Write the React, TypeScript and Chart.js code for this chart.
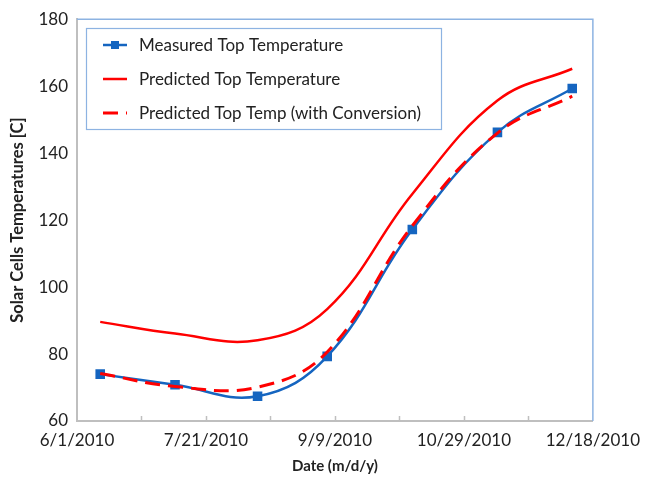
import React, { useEffect, useRef } from "react";
import { Chart, registerables } from "chart.js";

Chart.register(...registerables);

const measuredDates = ["6/10/2010", "7/9/2010", "8/10/2010", "9/6/2010", "10/9/2010", "11/11/2010", "12/10/2010"];
const measuredTop = [74, 70.8, 67.4, 79.3, 117.2, 146.2, 159.3];
const predictedTop = [89.6, 86.1, 84.1, 93.4, 127.8, 155.7, 165.2];
const predictedConv = [74.2, 70.3, 70.1, 80.6, 118.3, 146, 157];

const xTickLabels = ["6/1/2010", "7/21/2010", "9/9/2010", "10/29/2010", "12/18/2010"];
const yTicks = [60, 80, 100, 120, 140, 160, 180];

const seriesLabels = [
  "Measured Top Temperature",
  "Predicted Top Temperature",
  "Predicted Top Temp (with Conversion)",
];

const FONT = "Lato, 'Open Sans', sans-serif";
const TEXT = "#222222";
const BLUE = "#1565c0";
const RED = "#ff0000";
const FRAME = "#8db3e2";
const AXIS = "#bfbfbf";

function dayOf(s: string): number {
  const [m, d, y] = s.split("/").map(Number);
  return (Date.UTC(y, m - 1, d) - Date.UTC(2010, 5, 1)) / 86400000;
}

const toPts = (vals: number[]) => vals.map((v, i) => ({ x: dayOf(measuredDates[i]), y: v }));

const framePlugin = {
  id: "framePlugin",
  afterDatasetsDraw(chart: any) {
    const { ctx, chartArea } = chart;
    const xs = chart.scales.x;
    ctx.save();
    ctx.strokeStyle = AXIS;
    ctx.lineWidth = 1.5;
    for (let d = 25; d < 200; d += 25) {
      const px = Math.round(xs.getPixelForValue(d)) + 0.5;
      ctx.beginPath();
      ctx.moveTo(px, chartArea.bottom);
      ctx.lineTo(px, chartArea.bottom - 5);
      ctx.stroke();
    }
    ctx.strokeStyle = FRAME;
    ctx.lineWidth = 1.5;
    ctx.beginPath();
    ctx.moveTo(chartArea.left, chartArea.top);
    ctx.lineTo(chartArea.right, chartArea.top);
    ctx.lineTo(chartArea.right, chartArea.bottom);
    ctx.stroke();

    const bx = 86, by = 28, bw = 355, bh = 101;
    ctx.fillStyle = "#ffffff";
    ctx.fillRect(bx, by, bw, bh);
    ctx.strokeStyle = FRAME;
    ctx.lineWidth = 1.2;
    ctx.strokeRect(bx + 0.5, by + 0.5, bw, bh);
    const rows = [45, 79, 113];
    chart.data.datasets.forEach((ds: any, i: number) => {
      const y = rows[i];
      ctx.strokeStyle = ds.borderColor;
      ctx.lineWidth = ds.borderWidth;
      ctx.setLineDash(ds.borderDash || []);
      ctx.beginPath();
      ctx.moveTo(103, y);
      ctx.lineTo(127, y);
      ctx.stroke();
      ctx.setLineDash([]);
      if (ds.pointRadius > 0) {
        ctx.fillStyle = ds.pointBackgroundColor;
        ctx.fillRect(111, y - 4, 8, 8);
      }
      ctx.fillStyle = TEXT;
      ctx.font = `17px ${FONT}`;
      ctx.textBaseline = "middle";
      ctx.textAlign = "left";
      ctx.fillText(ds.label, 139, y + 1);
    });
    ctx.restore();
  },
};

export default function App() {
  const ref = useRef<HTMLCanvasElement | null>(null);
  useEffect(() => {
    if (!ref.current) return;
    const chart = new Chart(ref.current, {
      type: "line",
      data: {
        datasets: [
          {
            label: seriesLabels[0],
            data: toPts(measuredTop),
            borderColor: BLUE,
            backgroundColor: BLUE,
            pointBackgroundColor: BLUE,
            pointBorderColor: BLUE,
            pointStyle: "rect",
            pointRadius: 5,
            borderWidth: 2.5,
            tension: 0.4,
            order: 2,
          } as any,
          {
            label: seriesLabels[1],
            data: toPts(predictedTop),
            borderColor: RED,
            backgroundColor: RED,
            pointRadius: 0,
            borderWidth: 2.5,
            tension: 0.4,
            order: 1,
          },
          {
            label: seriesLabels[2],
            data: toPts(predictedConv),
            borderColor: RED,
            backgroundColor: RED,
            pointRadius: 0,
            borderWidth: 3,
            borderDash: [15, 8],
            tension: 0.4,
            order: 0,
          },
        ],
      },
      options: {
        animation: false,
        responsive: false,
        maintainAspectRatio: false,
        layout: { padding: { left: 0, right: 47, top: 15, bottom: 0 } },
        plugins: { legend: { display: false }, tooltip: { enabled: false } },
        scales: {
          x: {
            type: "linear",
            min: 0,
            max: 200,
            afterBuildTicks: (s: any) => {
              s.ticks = xTickLabels.map((_, i) => ({ value: i * 50 }));
            },
            afterFit: (s: any) => {
              s.height = 56;
            },
            grid: { display: false, drawTicks: false },
            border: { display: true, color: AXIS, width: 2 },
            ticks: {
              padding: 9,
              maxRotation: 0,
              autoSkip: false,
              color: TEXT,
              font: { family: FONT, size: 17 },
              callback: (v: any) => xTickLabels[Math.round(Number(v) / 50)] ?? "",
            },
            title: {
              display: true,
              text: "Date (m/d/y)",
              color: TEXT,
              font: { family: FONT, size: 15, weight: "bold" },
              padding: { top: 0, bottom: 2 },
            },
          },
          y: {
            min: 60,
            max: 180,
            afterBuildTicks: (s: any) => {
              s.ticks = yTicks.map((v) => ({ value: v }));
            },
            afterFit: (s: any) => {
              s.width = 77;
            },
            grid: { display: false, drawTicks: false },
            border: { display: true, color: AXIS, width: 2 },
            ticks: {
              padding: 9,
              color: TEXT,
              font: { family: FONT, size: 17 },
            },
            title: {
              display: true,
              text: "Solar Cells Temperatures [C]",
              color: TEXT,
              font: { family: FONT, size: 16.5, weight: "bold" },
              padding: { top: 8, bottom: 0 },
            },
          },
        },
      },
      plugins: [framePlugin],
    });
    return () => chart.destroy();
  }, []);
  return (
    <div style={{ position: "fixed", left: 0, top: 0, width: 649, height: 477, background: "#fff" }}>
      <canvas ref={ref} width={649} height={477} style={{ display: "block" }} />
    </div>
  );
}
